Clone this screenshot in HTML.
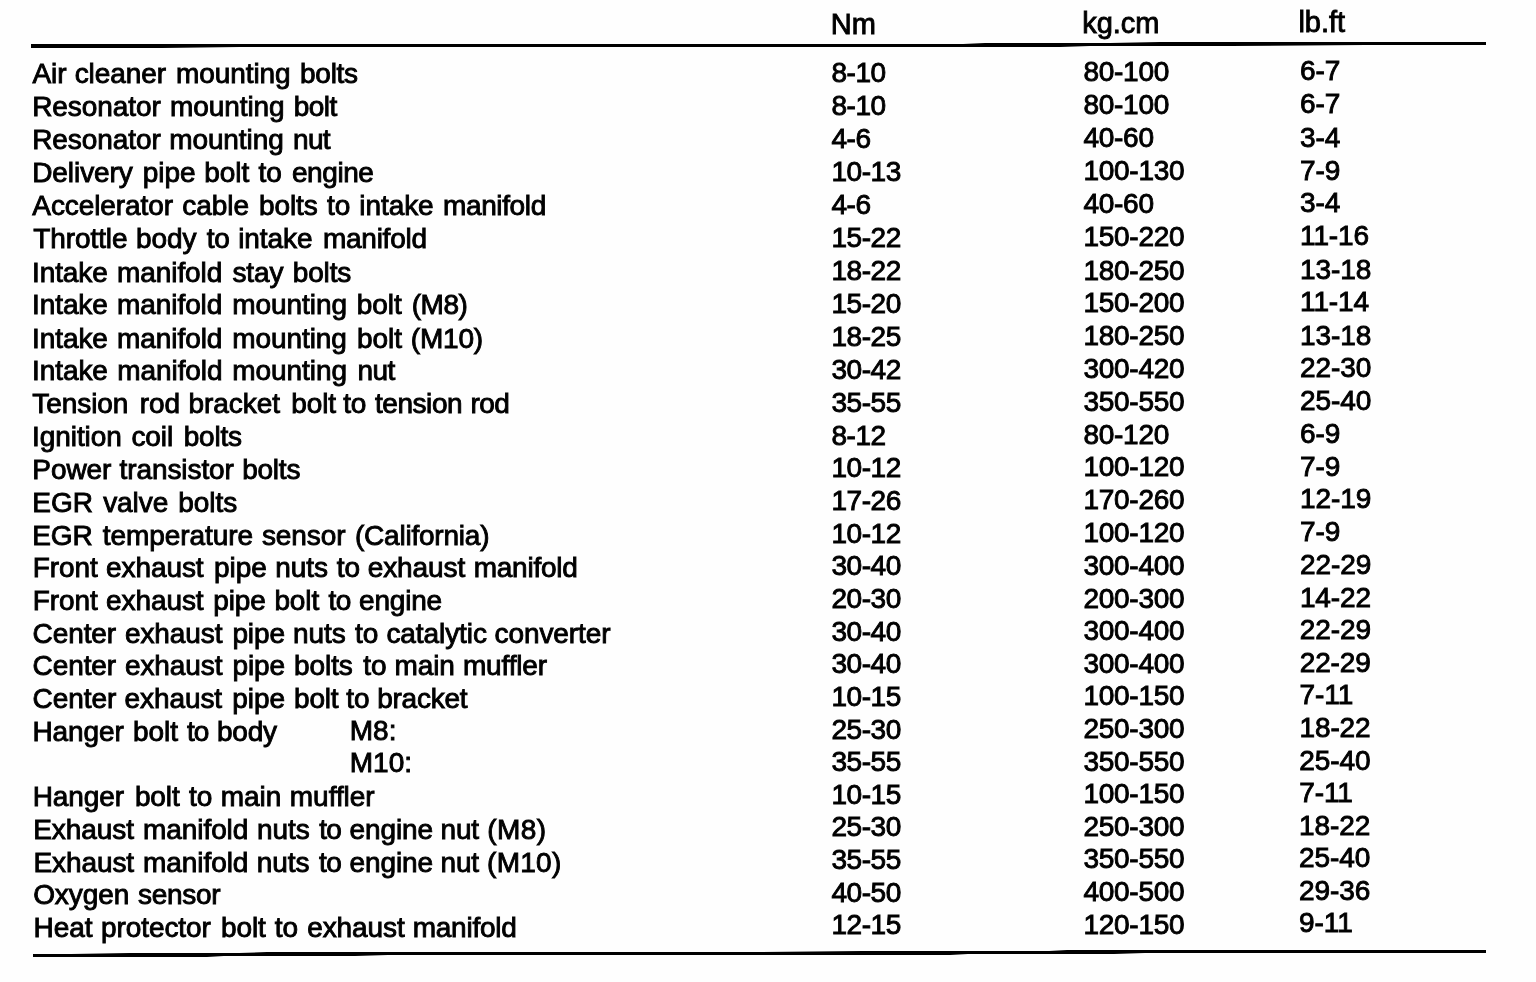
<!DOCTYPE html>
<html><head><meta charset="utf-8"><title>Tightening torque</title>
<style>
html,body{margin:0;padding:0;background:#fefefe;}
#p{position:relative;width:1536px;height:982px;overflow:hidden;background:#fefefe;font-family:"Liberation Sans",sans-serif;color:#000;will-change:transform;}
.t{position:absolute;white-space:pre;line-height:1;-webkit-text-stroke:0.9px #000;}
svg{position:absolute;left:0;top:0;}
</style></head><body><div id="p">
<svg width="1536" height="982" viewBox="0 0 1536 982"><polygon points="31,44 963,44 985,43 1110,43 1160,42 1486,42 1486,45 1365,45 1230,46 1090,46 1060,47 240,47 162,48 31,48" fill="#000"/><polygon points="33,954 71,954 130,953 239,953 267,952 759,952 863,951 1049,951 1067,950 1486,950 1486,953 1145,953 1114,954 968,954 950,955 388,955 355,956 224,956 207,957 33,957" fill="#000"/></svg>
<div class="r h">
<span class="t" id="hb" style="left:830.70px;top:10px;font-size:29px;">Nm</span>
<span class="t" id="hc" style="left:1082.20px;top:9px;font-size:29px;">kg.cm</span>
<span class="t" id="hd" style="left:1298.40px;top:8px;font-size:29px;">lb.ft</span>
</div>
<div class="r">
<span class="t" id="a0w0" style="left:32.41px;top:60px;font-size:28px;letter-spacing:-0.080px;">Air</span>
<span class="t" id="a0w1" style="left:74.69px;top:60px;font-size:28px;letter-spacing:-0.080px;">cleaner</span>
<span class="t" id="a0w2" style="left:175.97px;top:60px;font-size:28px;letter-spacing:-0.080px;">mounting</span>
<span class="t" id="a0w3" style="left:300.07px;top:60px;font-size:28px;letter-spacing:-0.273px;">bolts</span>
<span class="t" id="b0" style="left:831.50px;top:59px;font-size:28px;letter-spacing:-0.45px;">8-10</span>
<span class="t" id="c0" style="left:1083.40px;top:58px;font-size:28px;letter-spacing:-0.25px;">80-100</span>
<span class="t" id="d0" style="left:1300.00px;top:57px;font-size:28px;letter-spacing:-0.1px;">6-7</span>
</div>
<div class="r">
<span class="t" id="a1w0" style="left:32.18px;top:93px;font-size:28px;letter-spacing:-0.080px;">Resonator</span>
<span class="t" id="a1w1" style="left:170.03px;top:93px;font-size:28px;letter-spacing:-0.080px;">mounting</span>
<span class="t" id="a1w2" style="left:293.77px;top:93px;font-size:28px;letter-spacing:-0.539px;">bolt</span>
<span class="t" id="b1" style="left:831.50px;top:92px;font-size:28px;letter-spacing:-0.45px;">8-10</span>
<span class="t" id="c1" style="left:1083.40px;top:91px;font-size:28px;letter-spacing:-0.25px;">80-100</span>
<span class="t" id="d1" style="left:1300.00px;top:90px;font-size:28px;letter-spacing:-0.1px;">6-7</span>
</div>
<div class="r">
<span class="t" id="a2w0" style="left:32.20px;top:126px;font-size:28px;letter-spacing:-0.080px;">Resonator</span>
<span class="t" id="a2w1" style="left:169.15px;top:126px;font-size:28px;letter-spacing:-0.080px;">mounting</span>
<span class="t" id="a2w2" style="left:293.02px;top:126px;font-size:28px;letter-spacing:-0.678px;">nut</span>
<span class="t" id="b2" style="left:831.50px;top:125px;font-size:28px;letter-spacing:-0.45px;">4-6</span>
<span class="t" id="c2" style="left:1083.40px;top:124px;font-size:28px;letter-spacing:-0.25px;">40-60</span>
<span class="t" id="d2" style="left:1300.00px;top:124px;font-size:28px;letter-spacing:-0.1px;">3-4</span>
</div>
<div class="r">
<span class="t" id="a3w0" style="left:32.23px;top:159px;font-size:28px;letter-spacing:-0.080px;">Delivery</span>
<span class="t" id="a3w1" style="left:142.78px;top:159px;font-size:28px;letter-spacing:-0.080px;">pipe</span>
<span class="t" id="a3w2" style="left:204.32px;top:159px;font-size:28px;letter-spacing:-0.080px;">bolt</span>
<span class="t" id="a3w3" style="left:258.46px;top:159px;font-size:28px;letter-spacing:-0.080px;">to</span>
<span class="t" id="a3w4" style="left:291.93px;top:159px;font-size:28px;letter-spacing:-0.413px;">engine</span>
<span class="t" id="b3" style="left:831.50px;top:158px;font-size:28px;letter-spacing:-0.45px;">10-13</span>
<span class="t" id="c3" style="left:1083.40px;top:157px;font-size:28px;letter-spacing:-0.25px;">100-130</span>
<span class="t" id="d3" style="left:1300.00px;top:157px;font-size:28px;letter-spacing:-0.1px;">7-9</span>
</div>
<div class="r">
<span class="t" id="a4w0" style="left:32.31px;top:192px;font-size:28px;letter-spacing:-0.080px;">Accelerator</span>
<span class="t" id="a4w1" style="left:182.35px;top:192px;font-size:28px;letter-spacing:-0.080px;">cable</span>
<span class="t" id="a4w2" style="left:258.93px;top:192px;font-size:28px;letter-spacing:-0.080px;">bolts</span>
<span class="t" id="a4w3" style="left:327.09px;top:192px;font-size:28px;letter-spacing:-0.080px;">to</span>
<span class="t" id="a4w4" style="left:359.37px;top:192px;font-size:28px;letter-spacing:-0.080px;">intake</span>
<span class="t" id="a4w5" style="left:443.02px;top:192px;font-size:28px;letter-spacing:-0.372px;">manifold</span>
<span class="t" id="b4" style="left:831.50px;top:191px;font-size:28px;letter-spacing:-0.45px;">4-6</span>
<span class="t" id="c4" style="left:1083.40px;top:190px;font-size:28px;letter-spacing:-0.25px;">40-60</span>
<span class="t" id="d4" style="left:1300.00px;top:189px;font-size:28px;letter-spacing:-0.1px;">3-4</span>
</div>
<div class="r">
<span class="t" id="a5w0" style="left:33.19px;top:225px;font-size:28px;letter-spacing:-0.080px;">Throttle</span>
<span class="t" id="a5w1" style="left:135.92px;top:225px;font-size:28px;letter-spacing:-0.080px;">body</span>
<span class="t" id="a5w2" style="left:206.66px;top:225px;font-size:28px;letter-spacing:-0.080px;">to</span>
<span class="t" id="a5w3" style="left:238.19px;top:225px;font-size:28px;letter-spacing:-0.080px;">intake</span>
<span class="t" id="a5w4" style="left:322.91px;top:225px;font-size:28px;letter-spacing:-0.246px;">manifold</span>
<span class="t" id="b5" style="left:831.50px;top:224px;font-size:28px;letter-spacing:-0.45px;">15-22</span>
<span class="t" id="c5" style="left:1083.40px;top:223px;font-size:28px;letter-spacing:-0.25px;">150-220</span>
<span class="t" id="d5" style="left:1300.00px;top:222px;font-size:28px;letter-spacing:-0.1px;">11-16</span>
</div>
<div class="r">
<span class="t" id="a6w0" style="left:31.97px;top:259px;font-size:28px;letter-spacing:-0.080px;">Intake</span>
<span class="t" id="a6w1" style="left:117.04px;top:259px;font-size:28px;letter-spacing:-0.080px;">manifold</span>
<span class="t" id="a6w2" style="left:232.42px;top:259px;font-size:28px;letter-spacing:-0.080px;">stay</span>
<span class="t" id="a6w3" style="left:292.76px;top:259px;font-size:28px;letter-spacing:-0.149px;">bolts</span>
<span class="t" id="b6" style="left:831.50px;top:257px;font-size:28px;letter-spacing:-0.45px;">18-22</span>
<span class="t" id="c6" style="left:1083.40px;top:257px;font-size:28px;letter-spacing:-0.25px;">180-250</span>
<span class="t" id="d6" style="left:1300.00px;top:256px;font-size:28px;letter-spacing:-0.1px;">13-18</span>
</div>
<div class="r">
<span class="t" id="a7w0" style="left:31.99px;top:291px;font-size:28px;letter-spacing:-0.080px;">Intake</span>
<span class="t" id="a7w1" style="left:117.07px;top:291px;font-size:28px;letter-spacing:-0.080px;">manifold</span>
<span class="t" id="a7w2" style="left:232.35px;top:291px;font-size:28px;letter-spacing:-0.080px;">mounting</span>
<span class="t" id="a7w3" style="left:356.83px;top:291px;font-size:28px;letter-spacing:-0.080px;">bolt</span>
<span class="t" id="a7w4" style="left:411.80px;top:291px;font-size:28px;letter-spacing:-0.499px;">(M8)</span>
<span class="t" id="b7" style="left:831.50px;top:290px;font-size:28px;letter-spacing:-0.45px;">15-20</span>
<span class="t" id="c7" style="left:1083.40px;top:289px;font-size:28px;letter-spacing:-0.25px;">150-200</span>
<span class="t" id="d7" style="left:1300.00px;top:288px;font-size:28px;letter-spacing:-0.1px;">11-14</span>
</div>
<div class="r">
<span class="t" id="a8w0" style="left:32.02px;top:325px;font-size:28px;letter-spacing:-0.080px;">Intake</span>
<span class="t" id="a8w1" style="left:117.09px;top:325px;font-size:28px;letter-spacing:-0.080px;">manifold</span>
<span class="t" id="a8w2" style="left:232.28px;top:325px;font-size:28px;letter-spacing:-0.080px;">mounting</span>
<span class="t" id="a8w3" style="left:357.05px;top:325px;font-size:28px;letter-spacing:-0.080px;">bolt</span>
<span class="t" id="a8w4" style="left:410.82px;top:325px;font-size:28px;letter-spacing:-0.198px;">(M10)</span>
<span class="t" id="b8" style="left:831.50px;top:323px;font-size:28px;letter-spacing:-0.45px;">18-25</span>
<span class="t" id="c8" style="left:1083.40px;top:322px;font-size:28px;letter-spacing:-0.25px;">180-250</span>
<span class="t" id="d8" style="left:1300.00px;top:322px;font-size:28px;letter-spacing:-0.1px;">13-18</span>
</div>
<div class="r">
<span class="t" id="a9w0" style="left:32.04px;top:357px;font-size:28px;letter-spacing:-0.080px;">Intake</span>
<span class="t" id="a9w1" style="left:117.31px;top:357px;font-size:28px;letter-spacing:-0.080px;">manifold</span>
<span class="t" id="a9w2" style="left:232.33px;top:357px;font-size:28px;letter-spacing:-0.080px;">mounting</span>
<span class="t" id="a9w3" style="left:357.57px;top:357px;font-size:28px;letter-spacing:-0.606px;">nut</span>
<span class="t" id="b9" style="left:831.50px;top:356px;font-size:28px;letter-spacing:-0.45px;">30-42</span>
<span class="t" id="c9" style="left:1083.40px;top:355px;font-size:28px;letter-spacing:-0.25px;">300-420</span>
<span class="t" id="d9" style="left:1300.00px;top:354px;font-size:28px;letter-spacing:-0.1px;">22-30</span>
</div>
<div class="r">
<span class="t" id="a10w0" style="left:32.35px;top:390px;font-size:28px;letter-spacing:-0.080px;">Tension</span>
<span class="t" id="a10w1" style="left:139.66px;top:390px;font-size:28px;letter-spacing:-0.080px;">rod</span>
<span class="t" id="a10w2" style="left:188.58px;top:390px;font-size:28px;letter-spacing:-0.080px;">bracket</span>
<span class="t" id="a10w3" style="left:291.27px;top:390px;font-size:28px;letter-spacing:-0.124px;">bolt</span>
<span class="t" id="a10w4" style="left:343.18px;top:390px;font-size:28px;letter-spacing:-0.080px;">to</span>
<span class="t" id="a10w5" style="left:374.90px;top:390px;font-size:28px;letter-spacing:-0.425px;">tension</span>
<span class="t" id="a10w6" style="left:470.38px;top:390px;font-size:28px;letter-spacing:-0.496px;">rod</span>
<span class="t" id="b10" style="left:831.50px;top:389px;font-size:28px;letter-spacing:-0.45px;">35-55</span>
<span class="t" id="c10" style="left:1083.40px;top:388px;font-size:28px;letter-spacing:-0.25px;">350-550</span>
<span class="t" id="d10" style="left:1300.00px;top:387px;font-size:28px;letter-spacing:-0.1px;">25-40</span>
</div>
<div class="r">
<span class="t" id="a11w0" style="left:32.09px;top:423px;font-size:28px;letter-spacing:-0.080px;">Ignition</span>
<span class="t" id="a11w1" style="left:131.41px;top:423px;font-size:28px;letter-spacing:-0.080px;">coil</span>
<span class="t" id="a11w2" style="left:183.65px;top:423px;font-size:28px;letter-spacing:-0.190px;">bolts</span>
<span class="t" id="b11" style="left:831.50px;top:422px;font-size:28px;letter-spacing:-0.45px;">8-12</span>
<span class="t" id="c11" style="left:1083.40px;top:421px;font-size:28px;letter-spacing:-0.25px;">80-120</span>
<span class="t" id="d11" style="left:1300.00px;top:420px;font-size:28px;letter-spacing:-0.1px;">6-9</span>
</div>
<div class="r">
<span class="t" id="a12w0" style="left:32.35px;top:456px;font-size:28px;letter-spacing:-0.080px;">Power</span>
<span class="t" id="a12w1" style="left:119.48px;top:456px;font-size:28px;letter-spacing:-0.080px;">transistor</span>
<span class="t" id="a12w2" style="left:242.14px;top:456px;font-size:28px;letter-spacing:-0.209px;">bolts</span>
<span class="t" id="b12" style="left:831.50px;top:454px;font-size:28px;letter-spacing:-0.45px;">10-12</span>
<span class="t" id="c12" style="left:1083.40px;top:453px;font-size:28px;letter-spacing:-0.25px;">100-120</span>
<span class="t" id="d12" style="left:1300.00px;top:453px;font-size:28px;letter-spacing:-0.1px;">7-9</span>
</div>
<div class="r">
<span class="t" id="a13w0" style="left:32.37px;top:489px;font-size:28px;letter-spacing:-0.080px;">EGR</span>
<span class="t" id="a13w1" style="left:103.20px;top:489px;font-size:28px;letter-spacing:-0.080px;">valve</span>
<span class="t" id="a13w2" style="left:178.24px;top:489px;font-size:28px;letter-spacing:-0.012px;">bolts</span>
<span class="t" id="b13" style="left:831.50px;top:487px;font-size:28px;letter-spacing:-0.45px;">17-26</span>
<span class="t" id="c13" style="left:1083.40px;top:486px;font-size:28px;letter-spacing:-0.25px;">170-260</span>
<span class="t" id="d13" style="left:1300.00px;top:485px;font-size:28px;letter-spacing:-0.1px;">12-19</span>
</div>
<div class="r">
<span class="t" id="a14w0" style="left:32.23px;top:522px;font-size:28px;letter-spacing:-0.080px;">EGR</span>
<span class="t" id="a14w1" style="left:102.84px;top:522px;font-size:28px;letter-spacing:-0.080px;">temperature</span>
<span class="t" id="a14w2" style="left:261.93px;top:522px;font-size:28px;letter-spacing:-0.080px;">sensor</span>
<span class="t" id="a14w3" style="left:354.96px;top:522px;font-size:28px;letter-spacing:-0.217px;">(California)</span>
<span class="t" id="b14" style="left:831.50px;top:520px;font-size:28px;letter-spacing:-0.45px;">10-12</span>
<span class="t" id="c14" style="left:1083.40px;top:519px;font-size:28px;letter-spacing:-0.25px;">100-120</span>
<span class="t" id="d14" style="left:1300.00px;top:518px;font-size:28px;letter-spacing:-0.1px;">7-9</span>
</div>
<div class="r">
<span class="t" id="a15w0" style="left:32.79px;top:554px;font-size:28px;letter-spacing:-0.080px;">Front</span>
<span class="t" id="a15w1" style="left:106.04px;top:554px;font-size:28px;letter-spacing:-0.080px;">exhaust</span>
<span class="t" id="a15w2" style="left:214.07px;top:554px;font-size:28px;letter-spacing:-0.080px;">pipe</span>
<span class="t" id="a15w3" style="left:275.32px;top:554px;font-size:28px;letter-spacing:-0.080px;">nuts</span>
<span class="t" id="a15w4" style="left:336.85px;top:554px;font-size:28px;letter-spacing:-0.224px;">to</span>
<span class="t" id="a15w5" style="left:367.71px;top:554px;font-size:28px;letter-spacing:-0.080px;">exhaust</span>
<span class="t" id="a15w6" style="left:473.71px;top:554px;font-size:28px;letter-spacing:-0.243px;">manifold</span>
<span class="t" id="b15" style="left:831.50px;top:552px;font-size:28px;letter-spacing:-0.45px;">30-40</span>
<span class="t" id="c15" style="left:1083.40px;top:552px;font-size:28px;letter-spacing:-0.25px;">300-400</span>
<span class="t" id="d15" style="left:1300.00px;top:551px;font-size:28px;letter-spacing:-0.1px;">22-29</span>
</div>
<div class="r">
<span class="t" id="a16w0" style="left:32.81px;top:587px;font-size:28px;letter-spacing:-0.080px;">Front</span>
<span class="t" id="a16w1" style="left:106.07px;top:587px;font-size:28px;letter-spacing:-0.080px;">exhaust</span>
<span class="t" id="a16w2" style="left:213.16px;top:587px;font-size:28px;letter-spacing:-0.080px;">pipe</span>
<span class="t" id="a16w3" style="left:274.38px;top:587px;font-size:28px;letter-spacing:-0.080px;">bolt</span>
<span class="t" id="a16w4" style="left:328.45px;top:587px;font-size:28px;letter-spacing:-0.562px;">to</span>
<span class="t" id="a16w5" style="left:359.00px;top:587px;font-size:28px;letter-spacing:-0.193px;">engine</span>
<span class="t" id="b16" style="left:831.50px;top:585px;font-size:28px;letter-spacing:-0.45px;">20-30</span>
<span class="t" id="c16" style="left:1083.40px;top:585px;font-size:28px;letter-spacing:-0.25px;">200-300</span>
<span class="t" id="d16" style="left:1299.89px;top:584px;font-size:28px;letter-spacing:-0.1px;">14-22</span>
</div>
<div class="r">
<span class="t" id="a17w0" style="left:32.52px;top:620px;font-size:28px;letter-spacing:-0.080px;">Center</span>
<span class="t" id="a17w1" style="left:124.92px;top:620px;font-size:28px;letter-spacing:-0.080px;">exhaust</span>
<span class="t" id="a17w2" style="left:232.38px;top:620px;font-size:28px;letter-spacing:-0.089px;">pipe</span>
<span class="t" id="a17w3" style="left:293.11px;top:620px;font-size:28px;letter-spacing:-0.080px;">nuts</span>
<span class="t" id="a17w4" style="left:354.97px;top:620px;font-size:28px;letter-spacing:-0.080px;">to</span>
<span class="t" id="a17w5" style="left:386.41px;top:620px;font-size:28px;letter-spacing:-0.080px;">catalytic</span>
<span class="t" id="a17w6" style="left:494.62px;top:620px;font-size:28px;letter-spacing:-0.102px;">converter</span>
<span class="t" id="b17" style="left:831.50px;top:618px;font-size:28px;letter-spacing:-0.45px;">30-40</span>
<span class="t" id="c17" style="left:1083.40px;top:617px;font-size:28px;letter-spacing:-0.25px;">300-400</span>
<span class="t" id="d17" style="left:1299.78px;top:616px;font-size:28px;letter-spacing:-0.1px;">22-29</span>
</div>
<div class="r">
<span class="t" id="a18w0" style="left:32.54px;top:652px;font-size:28px;letter-spacing:-0.080px;">Center</span>
<span class="t" id="a18w1" style="left:124.94px;top:652px;font-size:28px;letter-spacing:-0.080px;">exhaust</span>
<span class="t" id="a18w2" style="left:232.40px;top:652px;font-size:28px;letter-spacing:-0.080px;">pipe</span>
<span class="t" id="a18w3" style="left:294.06px;top:652px;font-size:28px;letter-spacing:-0.080px;">bolts</span>
<span class="t" id="a18w4" style="left:363.29px;top:652px;font-size:28px;letter-spacing:-0.080px;">to</span>
<span class="t" id="a18w5" style="left:394.44px;top:652px;font-size:28px;letter-spacing:-0.080px;">main</span>
<span class="t" id="a18w6" style="left:462.90px;top:652px;font-size:28px;letter-spacing:-0.142px;">muffler</span>
<span class="t" id="b18" style="left:831.50px;top:650px;font-size:28px;letter-spacing:-0.45px;">30-40</span>
<span class="t" id="c18" style="left:1083.40px;top:650px;font-size:28px;letter-spacing:-0.25px;">300-400</span>
<span class="t" id="d18" style="left:1299.66px;top:649px;font-size:28px;letter-spacing:-0.1px;">22-29</span>
</div>
<div class="r">
<span class="t" id="a19w0" style="left:32.57px;top:685px;font-size:28px;letter-spacing:-0.080px;">Center</span>
<span class="t" id="a19w1" style="left:124.57px;top:685px;font-size:28px;letter-spacing:-0.080px;">exhaust</span>
<span class="t" id="a19w2" style="left:232.27px;top:685px;font-size:28px;letter-spacing:-0.080px;">pipe</span>
<span class="t" id="a19w3" style="left:294.08px;top:685px;font-size:28px;letter-spacing:-0.270px;">bolt</span>
<span class="t" id="a19w4" style="left:346.32px;top:685px;font-size:28px;letter-spacing:-0.154px;">to</span>
<span class="t" id="a19w5" style="left:377.20px;top:685px;font-size:28px;letter-spacing:-0.256px;">bracket</span>
<span class="t" id="b19" style="left:831.50px;top:683px;font-size:28px;letter-spacing:-0.45px;">10-15</span>
<span class="t" id="c19" style="left:1083.40px;top:682px;font-size:28px;letter-spacing:-0.25px;">100-150</span>
<span class="t" id="d19" style="left:1299.55px;top:681px;font-size:28px;letter-spacing:-0.1px;">7-11</span>
</div>
<div class="r">
<span class="t" id="a20w0" style="left:32.38px;top:718px;font-size:28px;letter-spacing:-0.080px;">Hanger</span>
<span class="t" id="a20w1" style="left:133.10px;top:718px;font-size:28px;letter-spacing:-0.080px;">bolt</span>
<span class="t" id="a20w2" style="left:186.89px;top:718px;font-size:28px;letter-spacing:-0.900px;">to</span>
<span class="t" id="a20w3" style="left:216.89px;top:718px;font-size:28px;letter-spacing:-0.159px;">body</span>
<span class="t" id="m8" style="left:349.80px;top:717px;font-size:28px;">M8:</span>
<span class="t" id="b20" style="left:831.50px;top:716px;font-size:28px;letter-spacing:-0.45px;">25-30</span>
<span class="t" id="c20" style="left:1083.40px;top:715px;font-size:28px;letter-spacing:-0.25px;">250-300</span>
<span class="t" id="d20" style="left:1299.44px;top:714px;font-size:28px;letter-spacing:-0.1px;">18-22</span>
</div>
<div class="r">
<span class="t" id="m10" style="left:349.80px;top:749px;font-size:28px;">M10:</span>
<span class="t" id="b21" style="left:831.50px;top:748px;font-size:28px;letter-spacing:-0.45px;">35-55</span>
<span class="t" id="c21" style="left:1083.40px;top:748px;font-size:28px;letter-spacing:-0.25px;">350-550</span>
<span class="t" id="d21" style="left:1299.33px;top:747px;font-size:28px;letter-spacing:-0.1px;">25-40</span>
</div>
<div class="r">
<span class="t" id="a22w0" style="left:32.70px;top:783px;font-size:28px;letter-spacing:-0.080px;">Hanger</span>
<span class="t" id="a22w1" style="left:134.88px;top:783px;font-size:28px;letter-spacing:-0.080px;">bolt</span>
<span class="t" id="a22w2" style="left:188.94px;top:783px;font-size:28px;letter-spacing:-0.080px;">to</span>
<span class="t" id="a22w3" style="left:220.81px;top:783px;font-size:28px;letter-spacing:-0.080px;">main</span>
<span class="t" id="a22w4" style="left:289.83px;top:783px;font-size:28px;letter-spacing:-0.041px;">muffler</span>
<span class="t" id="b22" style="left:831.50px;top:781px;font-size:28px;letter-spacing:-0.45px;">10-15</span>
<span class="t" id="c22" style="left:1083.40px;top:780px;font-size:28px;letter-spacing:-0.25px;">100-150</span>
<span class="t" id="d22" style="left:1299.21px;top:779px;font-size:28px;letter-spacing:-0.1px;">7-11</span>
</div>
<div class="r">
<span class="t" id="a23w0" style="left:33.25px;top:816px;font-size:28px;letter-spacing:-0.080px;">Exhaust</span>
<span class="t" id="a23w1" style="left:143.07px;top:816px;font-size:28px;letter-spacing:-0.080px;">manifold</span>
<span class="t" id="a23w2" style="left:257.03px;top:816px;font-size:28px;letter-spacing:-0.080px;">nuts</span>
<span class="t" id="a23w3" style="left:319.17px;top:816px;font-size:28px;letter-spacing:-0.626px;">to</span>
<span class="t" id="a23w4" style="left:349.41px;top:816px;font-size:28px;letter-spacing:-0.080px;">engine</span>
<span class="t" id="a23w5" style="left:440.54px;top:816px;font-size:28px;letter-spacing:-0.214px;">nut</span>
<span class="t" id="a23w6" style="left:487.16px;top:816px;font-size:28px;letter-spacing:0.479px;">(M8)</span>
<span class="t" id="b23" style="left:831.50px;top:813px;font-size:28px;letter-spacing:-0.45px;">25-30</span>
<span class="t" id="c23" style="left:1083.40px;top:813px;font-size:28px;letter-spacing:-0.25px;">250-300</span>
<span class="t" id="d23" style="left:1299.10px;top:812px;font-size:28px;letter-spacing:-0.1px;">18-22</span>
</div>
<div class="r">
<span class="t" id="a24w0" style="left:33.45px;top:849px;font-size:28px;letter-spacing:-0.080px;">Exhaust</span>
<span class="t" id="a24w1" style="left:143.09px;top:849px;font-size:28px;letter-spacing:-0.080px;">manifold</span>
<span class="t" id="a24w2" style="left:256.80px;top:849px;font-size:28px;letter-spacing:-0.080px;">nuts</span>
<span class="t" id="a24w3" style="left:319.10px;top:849px;font-size:28px;letter-spacing:-0.640px;">to</span>
<span class="t" id="a24w4" style="left:349.44px;top:849px;font-size:28px;letter-spacing:-0.080px;">engine</span>
<span class="t" id="a24w5" style="left:440.57px;top:849px;font-size:28px;letter-spacing:-0.214px;">nut</span>
<span class="t" id="a24w6" style="left:487.04px;top:849px;font-size:28px;letter-spacing:0.282px;">(M10)</span>
<span class="t" id="b24" style="left:831.50px;top:846px;font-size:28px;letter-spacing:-0.45px;">35-55</span>
<span class="t" id="c24" style="left:1083.40px;top:845px;font-size:28px;letter-spacing:-0.25px;">350-550</span>
<span class="t" id="d24" style="left:1299.10px;top:844px;font-size:28px;letter-spacing:-0.1px;">25-40</span>
</div>
<div class="r">
<span class="t" id="a25w0" style="left:33.14px;top:881px;font-size:28px;letter-spacing:-0.080px;">Oxygen</span>
<span class="t" id="a25w1" style="left:137.93px;top:881px;font-size:28px;letter-spacing:-0.267px;">sensor</span>
<span class="t" id="b25" style="left:831.50px;top:879px;font-size:28px;letter-spacing:-0.45px;">40-50</span>
<span class="t" id="c25" style="left:1083.40px;top:878px;font-size:28px;letter-spacing:-0.25px;">400-500</span>
<span class="t" id="d25" style="left:1299.10px;top:877px;font-size:28px;letter-spacing:-0.1px;">29-36</span>
</div>
<div class="r">
<span class="t" id="a26w0" style="left:33.50px;top:914px;font-size:28px;letter-spacing:-0.080px;">Heat</span>
<span class="t" id="a26w1" style="left:100.98px;top:914px;font-size:28px;letter-spacing:-0.080px;">protector</span>
<span class="t" id="a26w2" style="left:220.94px;top:914px;font-size:28px;letter-spacing:-0.080px;">bolt</span>
<span class="t" id="a26w3" style="left:274.85px;top:914px;font-size:28px;letter-spacing:-0.080px;">to</span>
<span class="t" id="a26w4" style="left:307.16px;top:914px;font-size:28px;letter-spacing:-0.080px;">exhaust</span>
<span class="t" id="a26w5" style="left:412.66px;top:914px;font-size:28px;letter-spacing:-0.236px;">manifold</span>
<span class="t" id="b26" style="left:831.50px;top:911px;font-size:28px;letter-spacing:-0.45px;">12-15</span>
<span class="t" id="c26" style="left:1083.40px;top:911px;font-size:28px;letter-spacing:-0.25px;">120-150</span>
<span class="t" id="d26" style="left:1299.10px;top:909px;font-size:28px;letter-spacing:-0.1px;">9-11</span>
</div>
</div></body></html>
